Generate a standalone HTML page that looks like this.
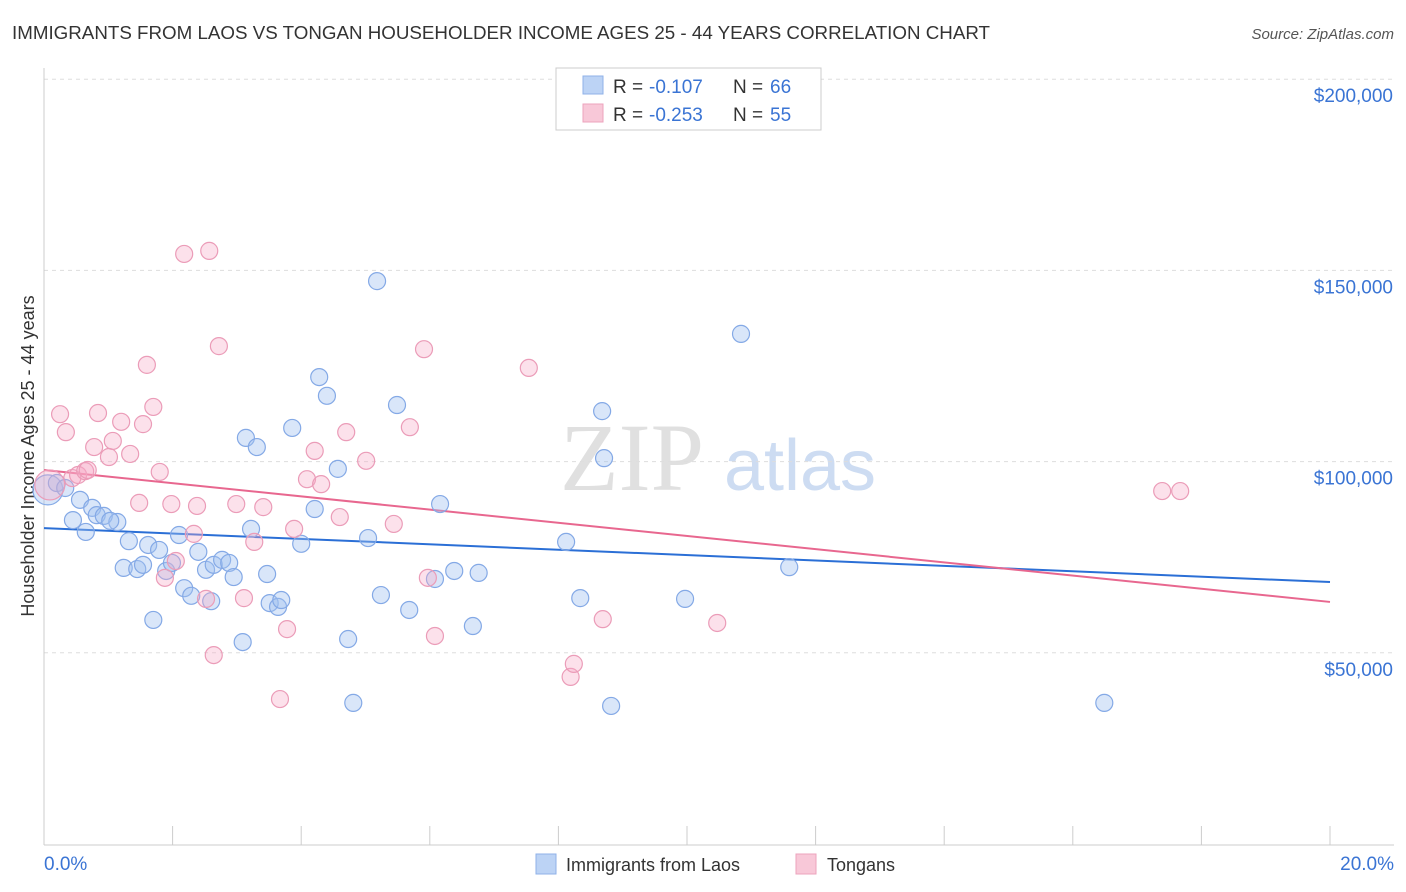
<!DOCTYPE html>
<html><head><meta charset="utf-8"><style>
body{margin:0;background:#fff;font-family:"Liberation Sans",sans-serif;}
svg{display:block}
</style></head><body>
<svg id="chart" width="1406" height="892">
<text x="12" y="39" font-size="18" fill="#333" textLength="978" lengthAdjust="spacingAndGlyphs">IMMIGRANTS FROM LAOS VS TONGAN HOUSEHOLDER INCOME AGES 25 - 44 YEARS CORRELATION CHART</text>
<text x="1394" y="39" font-size="15" fill="#555" font-style="italic" text-anchor="end">Source: ZipAtlas.com</text>
<text transform="translate(34,456) rotate(-90)" font-size="18" fill="#333" text-anchor="middle">Householder Income Ages 25 - 44 years</text>
<g>
<text x="632" y="490" font-size="96" fill="#e0e0e0" font-family="Liberation Serif, serif" text-anchor="middle">ZIP</text>
<text x="800" y="490" font-size="72" fill="#cddcf2" text-anchor="middle">atlas</text>
</g>
<g id="grid"></g><g id="axes"></g><g id="lines"></g><g id="dots"></g>
<g>
<rect x="556" y="68" width="265" height="62" fill="#fff" stroke="#ccc"/>
<rect x="583" y="76" width="20" height="18" fill="#bcd3f5" stroke="#8fb1e8"/>
<rect x="583" y="104" width="20" height="18" fill="#f8c8d8" stroke="#eda3bd"/>
<text x="613" y="93" font-size="19" fill="#333">R =</text>
<text x="649" y="93" font-size="19" fill="#3a74d4">-0.107</text>
<text x="733" y="93" font-size="19" fill="#333">N =</text>
<text x="770" y="93" font-size="19" fill="#3a74d4">66</text>
<text x="613" y="121" font-size="19" fill="#333">R =</text>
<text x="649" y="121" font-size="19" fill="#3a74d4">-0.253</text>
<text x="733" y="121" font-size="19" fill="#333">N =</text>
<text x="770" y="121" font-size="19" fill="#3a74d4">55</text>
</g>
<g>
<rect x="536" y="854" width="20" height="20" fill="#bcd3f5" stroke="#8fb1e8"/>
<text x="566" y="871" font-size="18" fill="#333">Immigrants from Laos</text>
<rect x="796" y="854" width="20" height="20" fill="#f8c8d8" stroke="#eda3bd"/>
<text x="827" y="871" font-size="18" fill="#333">Tongans</text>
</g>
</svg>
<script>
const yTicks=[50000,100000,150000,200000];
const yTickLabels=["$50,000","$100,000","$150,000","$200,000"];
const xTickLabels=["0.0%","20.0%"];
const blueX=[0.06,0.20,0.33,0.56,0.45,0.65,0.75,0.82,0.93,1.14,1.03,1.32,1.24,1.45,1.54,1.62,1.70,1.79,1.90,1.99,2.10,2.18,2.29,2.40,2.52,2.60,2.64,2.77,2.88,2.95,3.09,3.14,3.22,3.31,3.47,3.51,3.64,3.69,3.86,4.00,4.21,4.28,4.40,4.57,4.73,4.81,5.04,5.18,5.24,5.49,5.68,6.08,6.16,6.38,6.67,6.76,8.12,8.34,8.68,8.71,8.82,9.97,10.84,11.59,16.49];
const blueY=[92.6,94.4,93.1,90.0,84.7,81.6,87.9,86.0,85.8,84.2,84.5,79.2,72.2,71.9,73.0,78.2,58.6,76.9,71.4,73.5,80.8,66.9,64.9,76.4,71.7,63.5,73.0,74.3,73.5,69.8,52.8,106.2,82.4,103.8,70.6,63.0,62.0,63.8,108.8,78.5,87.6,122.1,117.2,98.1,53.6,36.9,80.0,147.2,65.1,114.8,61.2,69.3,88.9,71.4,57.0,70.9,79.0,64.3,113.2,100.9,36.1,64.1,133.4,72.4,36.9];
const pinkX=[0.09,0.25,0.34,0.44,0.53,0.64,0.68,0.78,0.84,1.01,1.07,1.20,1.34,1.48,1.54,1.60,1.70,1.80,1.88,1.98,2.05,2.18,2.33,2.38,2.52,2.57,2.64,2.72,2.99,3.11,3.27,3.41,3.67,3.78,3.89,4.09,4.21,4.31,4.60,4.70,5.01,5.44,5.69,5.91,5.97,6.08,7.54,8.19,8.24,8.69,10.47,17.39,17.67];
const pinkY=[93.9,112.4,107.7,95.7,96.5,97.5,97.8,103.8,112.7,101.2,105.4,110.4,102.0,89.2,109.8,125.3,114.3,97.3,69.6,88.9,74.0,154.3,81.1,88.4,64.1,155.1,49.4,130.2,88.9,64.3,79.0,88.1,37.9,56.2,82.4,95.4,102.8,94.1,85.5,107.7,100.2,83.7,109.0,129.4,69.6,54.4,124.5,43.7,47.1,58.8,57.8,92.3,92.3];
const blueTrend=[82.6,68.5];
const pinkTrend=[97.8,63.3];
const NS="http://www.w3.org/2000/svg";
const X=v=>44+v*64.3, Y=v=>844-v*1000/50000*191.2;
function mk(t,a,p){const e=document.createElementNS(NS,t);for(const k in a)e.setAttribute(k,a[k]);document.getElementById(p).appendChild(e);return e;}
yTicks.forEach((t,i)=>{
 const g=mk('line',{x1:44,x2:1394,y1:Y(t/1000),y2:Y(t/1000),stroke:'#ddd','stroke-dasharray':'4,4'},'grid');
 
 
 const l=mk('text',{x:1393,y:Y(t/1000)+23,'font-size':19,fill:'#3a74d4','text-anchor':'end'},'axes');
 l.textContent=yTickLabels[i];
 
 
});
mk('line',{x1:44,x2:44,y1:68,y2:845,stroke:'#ccc'},'axes');
mk('line',{x1:44,x2:1394,y1:845,y2:845,stroke:'#ccc'},'axes');
for(let i=0;i<=10;i++){const t=mk('line',{x1:X(i*2),x2:X(i*2),y1:826,y2:845,stroke:'#ccc'},'axes');}
[[0,'start',44],[1,'end',1394]].forEach(([i,a,x])=>{const l=mk('text',{x:x,y:870,'font-size':19,fill:'#3a74d4','text-anchor':a},'axes');l.textContent=xTickLabels[i];});
const bl=mk('line',{x1:X(0),x2:X(20),y1:Y(blueTrend[0]),y2:Y(blueTrend[1]),stroke:'#2b6fd6','stroke-width':2},'lines');


const pl=mk('line',{x1:X(0),x2:X(20),y1:Y(pinkTrend[0]),y2:Y(pinkTrend[1]),stroke:'#e8678f','stroke-width':2},'lines');


function dots(xs,ys,fill,stroke,name){xs.forEach((x,i)=>{const c=mk('circle',{cx:X(x),cy:Y(ys[i]),r:i==0?15:8.5,fill:fill,stroke:stroke,'stroke-width':1.2},'dots');});}
dots(blueX,blueY,'rgba(160,192,240,0.4)','#84a9e6','laos-point');
dots(pinkX,pinkY,'rgba(245,170,198,0.35)','#eb9cb8','tongan-point');
</script>
</body></html>
